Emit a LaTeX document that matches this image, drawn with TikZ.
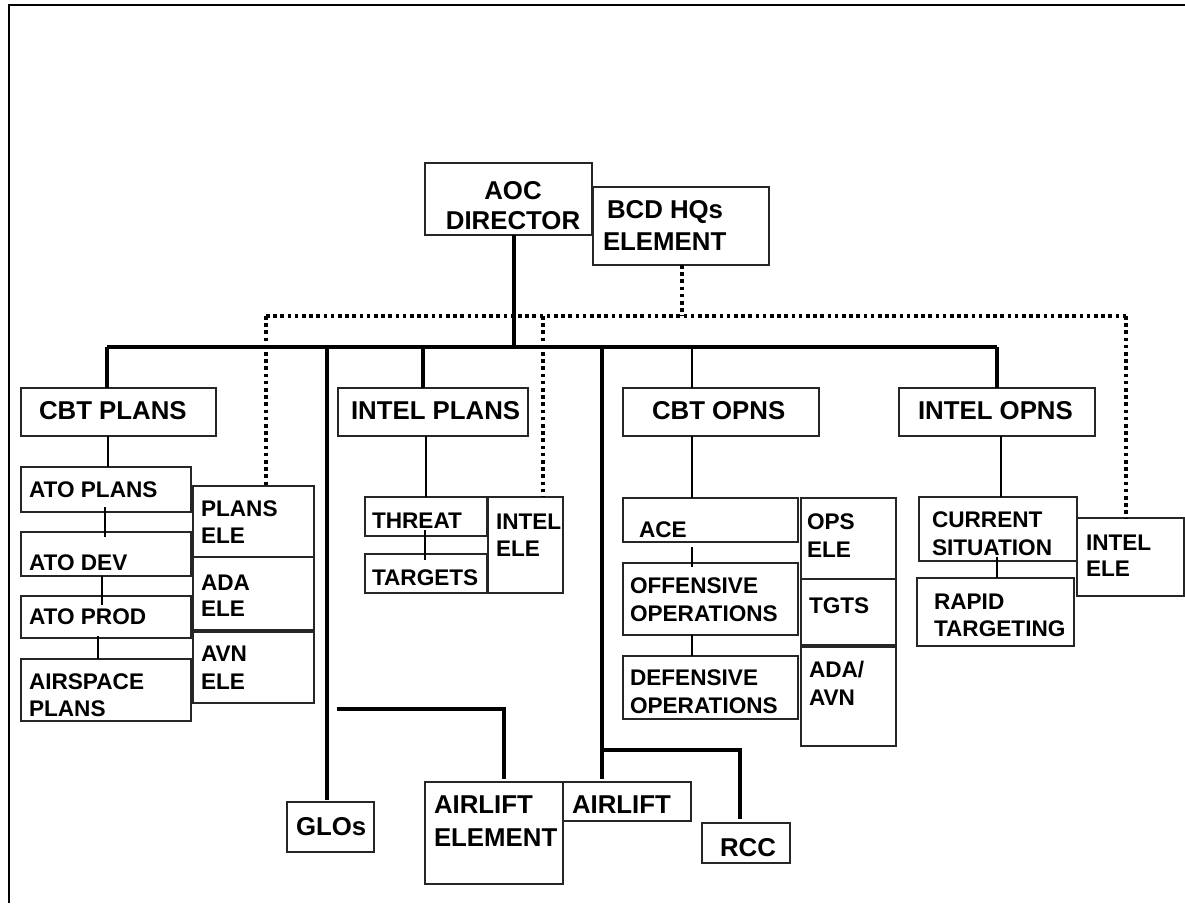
\documentclass[tikz,border=0pt]{standalone}
\usepackage{fontspec}
\setmainfont{Liberation Sans}
\begin{document}
\begin{tikzpicture}[x=1pt,y=-1pt,
  box/.style={draw=black!85, line width=1.2pt, anchor=north west, inner sep=0pt, outer sep=0pt},
  tb/.style={font=\bfseries\fontsize{25.8}{30}\selectfont, inner sep=0pt, outer sep=0pt, text height=18.5pt, text depth=0pt, anchor=west},
  ts/.style={font=\bfseries\fontsize{22.6}{27}\selectfont, inner sep=0pt, outer sep=0pt, text height=16.2pt, text depth=0pt, anchor=west},
  thk/.style={line width=3.5pt},
  thn/.style={line width=1.3pt},
  dotln/.style={line width=3.5pt, dash pattern=on 3.6pt off 3.6pt}]
\useasboundingbox (0,0) rectangle (1185,903);
\newcommand\bx[4]{\node[box, minimum width=#3pt, minimum height=#4pt] (#1) at (#2) {};}
% frame
\draw[line width=2pt] (9,903) -- (9,5) -- (1185,5);
% boxes
\bx{aoc}{425,163}{167}{72}
\bx{bcd}{593,187}{176}{78}
\bx{cbtplans}{21,388}{195}{48}
\bx{atoplans}{21,467}{170}{45}
\bx{atodev}{21,532}{170}{44}
\bx{atoprod}{21,596}{170}{42}
\bx{airspace}{21,659}{170}{62}
\bx{plansele}{193,486}{121}{71}
\bx{adaele}{193,557}{121}{73}
\bx{avnele}{193,632}{121}{71}
\bx{intelplans}{338,388}{190}{48}
\bx{threat}{365,497}{122}{39}
\bx{targets}{365,554}{122}{39}
\bx{intelele1}{488,497}{75}{96}
\bx{cbtopns}{623,388}{196}{48}
\bx{ace}{623,498}{175}{44}
\bx{offensive}{623,563}{175}{72}
\bx{defensive}{623,656}{175}{63}
\bx{opsele}{801,498}{95}{81}
\bx{tgts}{801,579}{95}{66}
\bx{adaavn}{801,647}{95}{99}
\bx{intelopns}{899,388}{196}{48}
\bx{current}{919,497}{158}{64}
\bx{rapid}{917,578}{157}{68}
\bx{intelele2}{1077,518}{107}{78}
\bx{glos}{287,802}{87}{50}
\bx{airliftel}{425,782}{138}{102}
\bx{airlift}{563,782}{128}{39}
\bx{rcc}{702,823}{88}{40}
% texts
\node[tb, anchor=center] (t1) at (513,190) {AOC};
\node[tb, anchor=center] (t2) at (513,220) {DIRECTOR};
\node[tb] (t3) at (607,209) {BCD HQs};
\node[tb] (t4) at (603,241) {ELEMENT};
\node[tb] (t5) at (39,410) {CBT PLANS};
\node[tb] (t6) at (351,410) {INTEL PLANS};
\node[tb] (t7) at (652,410) {CBT OPNS};
\node[tb] (t8) at (918,410) {INTEL OPNS};
\node[tb] (t9) at (296,826) {GLOs};
\node[tb] (t10) at (434,804) {AIRLIFT};
\node[tb] (t11) at (434,837) {ELEMENT};
\node[tb] (t12) at (572,804) {AIRLIFT};
\node[tb] (t13) at (720,847) {RCC};
\node[ts] (s1) at (29,489) {ATO PLANS};
\node[ts] (s2) at (29,562) {ATO DEV};
\node[ts] (s3) at (29,616) {ATO PROD};
\node[ts] (s4) at (29,681) {AIRSPACE};
\node[ts] (s5) at (29,708) {PLANS};
\node[ts] (s6) at (201,508) {PLANS};
\node[ts] (s7) at (201,535) {ELE};
\node[ts] (s8) at (201,582) {ADA};
\node[ts] (s9) at (201,608) {ELE};
\node[ts] (s10) at (201,653) {AVN};
\node[ts] (s11) at (201,681) {ELE};
\node[ts] (s12) at (372,520) {THREAT};
\node[ts] (s13) at (372,577) {TARGETS};
\node[ts] (s14) at (496,521) {INTEL};
\node[ts] (s15) at (496,548) {ELE};
\node[ts] (s16) at (639,529) {ACE};
\node[ts] (s17) at (630,585) {OFFENSIVE};
\node[ts] (s18) at (630,613) {OPERATIONS};
\node[ts] (s19) at (630,677) {DEFENSIVE};
\node[ts] (s20) at (630,705) {OPERATIONS};
\node[ts] (s21) at (807,521) {OPS};
\node[ts] (s22) at (807,549) {ELE};
\node[ts] (s23) at (809,605) {TGTS};
\node[ts] (s24) at (809,669) {ADA/};
\node[ts] (s25) at (809,697) {AVN};
\node[ts] (s26) at (932,519) {CURRENT};
\node[ts] (s27) at (932,547) {SITUATION};
\node[ts] (s28) at (934,601) {RAPID};
\node[ts] (s29) at (934,628) {TARGETING};
\node[ts] (s30) at (1086,542) {INTEL};
\node[ts] (s31) at (1086,568) {ELE};
% thick connectors
\coordinate (j0) at (514,347);
\coordinate (barL) at (107,347);
\coordinate (barR) at (997,347);
\coordinate (jg) at (327,347);
\coordinate (ji) at (423,347);
\coordinate (ja) at (602,347);
\coordinate (jc) at (692,347);
\draw[thk] (j0 |- aoc.south) -- (j0);
\draw[thk] (barL) -- (barR);
\draw[thk] (barL) -- (barL |- cbtplans.north);
\draw[thk] (jg) -- ([yshift=2pt]jg |- glos.north);
\draw[thk] (ji) -- (ji |- intelplans.north);
\draw[thk] (ja) -- ([yshift=3pt]ja |- airlift.north);
\draw[thk] (barR) -- (barR |- intelopns.north);
\draw[thn] (jc) -- (jc |- cbtopns.north);
\coordinate (ae0) at (337,709);
\coordinate (ae1) at (504,709);
\draw[thk] (ae0) -- (ae1) -- ([yshift=3pt]ae1 |- airliftel.north);
\coordinate (jr) at (602,750);
\coordinate (jr1) at (740,750);
\draw[thk] (jr) -- (jr1) -- ([yshift=4pt]jr1 |- rcc.north);
% thin connectors
\coordinate (cx1) at (108,0);
\coordinate (cx2) at (105,0);
\coordinate (cx3) at (102,0);
\coordinate (cx4) at (98,0);
\coordinate (cx5) at (426,0);
\coordinate (cx6) at (425,0);
\coordinate (cx7) at (1001,0);
\coordinate (cx8) at (997,0);
\draw[thn] (cx1 |- cbtplans.south) -- (cx1 |- atoplans.north);
\draw[thn] ([yshift=5pt]cx2 |- atoplans.south) -- ([yshift=-5pt]cx2 |- atodev.north);
\draw[thn] (cx3 |- atodev.south) -- ([yshift=-9pt]cx3 |- atoprod.north);
\draw[thn] ([yshift=2pt]cx4 |- atoprod.south) -- (cx4 |- airspace.north);
\draw[thn] (cx5 |- intelplans.south) -- (cx5 |- threat.north);
\draw[thn] ([yshift=6pt]cx6 |- threat.south) -- ([yshift=-6pt]cx6 |- targets.north);
\draw[thn] (jc |- cbtopns.south) -- (jc |- ace.north);
\draw[thn] ([yshift=-5pt]jc |- ace.south) -- ([yshift=-4pt]jc |- offensive.north);
\draw[thn] (jc |- offensive.south) -- (jc |- defensive.north);
\draw[thn] (cx7 |- intelopns.south) -- (cx7 |- current.north);
\draw[thn] ([yshift=4pt]cx8 |- current.south) -- (cx8 |- rapid.north);
% dotted connectors
\coordinate (d0) at (682,316);
\coordinate (dL) at (266,316);
\coordinate (dM) at (543,316);
\coordinate (dR) at (1126,316);
\draw[dotln] (d0 |- bcd.south) -- (d0);
\draw[dotln] (dL) -- (dR);
\draw[dotln] (dL) -- (dL |- plansele.north);
\draw[dotln] (dM) -- (dM |- intelele1.north);
\draw[dotln] (dR) -- (dR |- intelele2.north);
\end{tikzpicture}
\end{document}
